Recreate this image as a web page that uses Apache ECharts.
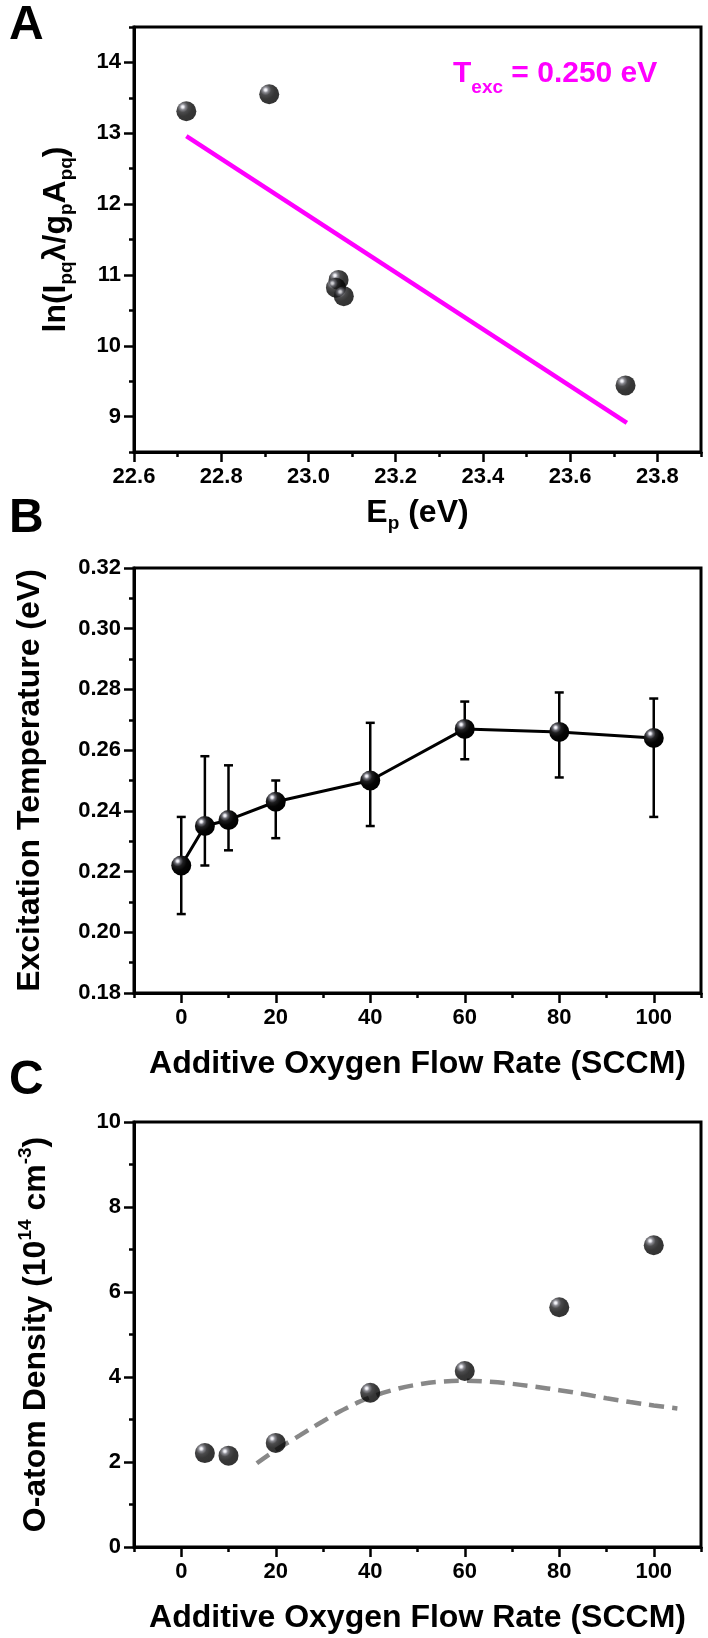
<!DOCTYPE html>
<html><head><meta charset="utf-8">
<script src="https://cdn.jsdelivr.net/npm/echarts@6/dist/echarts.min.js"></script>
<style>html,body{margin:0;padding:0;background:#fff}#c{width:708px;height:1638px}</style>
</head><body><div id="c"></div>
<script>
// ---------- Panel A data ----------
const aEnergy = [22.72, 22.91, 23.069, 23.063, 23.081, 23.727];
const aLnIntensity = [13.31, 13.55, 10.93, 10.82, 10.70, 9.44];
const aFitEnergy = [22.72, 23.73];
const aFitLn = [12.96, 8.91];
const aXTicks = [22.6, 22.8, 23.0, 23.2, 23.4, 23.6, 23.8];
const aYTicks = [9, 10, 11, 12, 13, 14];
// ---------- Panel B data ----------
const bFlow = [0, 5, 10, 20, 40, 60, 80, 100];
const bTexc = [0.222, 0.235, 0.237, 0.243, 0.250, 0.267, 0.266, 0.264];
const bErrLow = [0.206, 0.222, 0.227, 0.231, 0.235, 0.257, 0.251, 0.238];
const bErrHigh = [0.238, 0.258, 0.255, 0.250, 0.269, 0.276, 0.279, 0.277];
const bYTicks = [0.18, 0.20, 0.22, 0.24, 0.26, 0.28, 0.30, 0.32];
// ---------- Panel C data ----------
const cFlow = [5, 10, 20, 40, 60, 80, 100];
const cDensity = [2.21, 2.15, 2.45, 3.63, 4.14, 5.64, 7.10];
const cModelFlow = [16, 20, 25, 30, 35, 40, 45, 50, 55, 60, 65, 70, 75, 80, 85, 90, 95, 100, 105];
const cModelDensity = [1.97, 2.28, 2.62, 2.96, 3.27, 3.52, 3.70, 3.82, 3.89, 3.91, 3.89, 3.84, 3.77, 3.69, 3.60, 3.50, 3.41, 3.33, 3.26];
const flowTicks = [0, 20, 40, 60, 80, 100];
const cYTicks = [0, 2, 4, 6, 8, 10];

const FONT = 'Liberation Sans, Arial, sans-serif';
const zip = (a, b) => a.map((v, i) => [v, b[i]]);

const sphere = new echarts.graphic.RadialGradient(0.32, 0.28, 0.72, [
  {offset: 0, color: '#ffffff'},
  {offset: 0.08, color: '#e4e4ec'},
  {offset: 0.2, color: '#6c6c74'},
  {offset: 0.38, color: '#1e1e20'},
  {offset: 0.65, color: '#050505'},
  {offset: 1, color: '#000000'}
]);

const labelStyle = {color: '#000', fontFamily: FONT, fontWeight: 'bold', fontSize: 22};
const nameBase = {color: '#000', fontFamily: FONT, fontWeight: 'bold', fontSize: 32};

function minorX(grid, min, max, interval, name, nameRich, gap) {
  return {
    type: 'value', gridIndex: grid, position: 'bottom', min, max, interval,
    axisLine: {show: true, onZero: false, lineStyle: {color: '#000', width: 3}},
    axisTick: {show: true, length: 5, lineStyle: {color: '#000', width: 2.5}},
    axisLabel: {show: false}, splitLine: {show: false},
    name, nameLocation: 'middle', nameGap: gap,
    nameTextStyle: Object.assign({}, nameBase, {rich: nameRich})
  };
}
function majorX(grid, min, max, ticks, fmt) {
  return {
    type: 'value', gridIndex: grid, position: 'bottom', min, max,
    axisLine: {show: false, onZero: false},
    axisTick: {show: true, length: 10, customValues: ticks, lineStyle: {color: '#000', width: 2.5}},
    axisLabel: Object.assign({show: true, margin: 14, customValues: ticks, formatter: fmt}, labelStyle),
    splitLine: {show: false}
  };
}
function minorY(grid, min, max, interval, name, nameRich, gap) {
  return {
    type: 'value', gridIndex: grid, position: 'left', min, max, interval,
    axisLine: {show: true, onZero: false, lineStyle: {color: '#000', width: 3}},
    axisTick: {show: true, length: 5, lineStyle: {color: '#000', width: 2.5}},
    axisLabel: {show: false}, splitLine: {show: false},
    name, nameLocation: 'middle', nameGap: gap, nameRotate: 90,
    nameTextStyle: Object.assign({}, nameBase, {rich: nameRich})
  };
}
function majorY(grid, min, max, ticks, fmt) {
  return {
    type: 'value', gridIndex: grid, position: 'left', min, max,
    axisLine: {show: false, onZero: false},
    axisTick: {show: true, length: 10, customValues: ticks, lineStyle: {color: '#000', width: 2.5}},
    axisLabel: Object.assign({show: true, margin: 13, customValues: ticks, formatter: fmt}, labelStyle),
    splitLine: {show: false}
  };
}

const m = {fontFamily: FONT, fontWeight: 'bold', fontSize: 32, color: '#000'};
const sub = {fontFamily: FONT, fontWeight: 'bold', fontSize: 19, color: '#000', padding: [20, 0, 0, 0]};
const sup = {fontFamily: FONT, fontWeight: 'bold', fontSize: 19, color: '#000', padding: [0, 0, 22, 0]};

const gridCommon = {left: 134, right: 7, show: true, borderColor: '#000', borderWidth: 3, containLabel: false};

const option = {
  animation: false,
  backgroundColor: '#fff',
  grid: [
    Object.assign({top: 27, height: 425}, gridCommon),
    Object.assign({top: 568, height: 425}, gridCommon),
    Object.assign({top: 1122, height: 425}, gridCommon)
  ],
  xAxis: [
    minorX(0, 22.6, 23.9, 0.1, '{m|E}{s|p}{m| (eV)}', {m, s: sub}, 42),
    majorX(0, 22.6, 23.9, aXTicks, v => v.toFixed(1)),
    minorX(1, -10, 110, 10, 'Additive Oxygen Flow Rate (SCCM)', {}, 55),
    majorX(1, -10, 110, flowTicks, v => String(v)),
    minorX(2, -10, 110, 10, 'Additive Oxygen Flow Rate (SCCM)', {}, 55),
    majorX(2, -10, 110, flowTicks, v => String(v))
  ],
  yAxis: [
    minorY(0, 8.5, 14.5, 0.5, '{m|ln(I}{s|pq}{m|λ/g}{s|p}{m|A}{s|pq}{m|)}', {m, s: sub}, 58),
    majorY(0, 8.5, 14.5, aYTicks, v => String(v)),
    minorY(1, 0.18, 0.32, 0.01, 'Excitation Temperature (eV)', {}, 88),
    majorY(1, 0.18, 0.32, bYTicks, v => v.toFixed(2)),
    minorY(2, 0, 10, 1, '{m|O-atom Density (10}{u|14}{m| cm}{u|-3}{m|)}', {m, u: sup}, 77),
    majorY(2, 0, 10, cYTicks, v => String(v))
  ],
  series: [
    {type: 'line', xAxisIndex: 0, yAxisIndex: 0, data: zip(aFitEnergy, aFitLn), showSymbol: false,
     lineStyle: {color: '#ff00ff', width: 4.5}, z: 2},
    {type: 'scatter', xAxisIndex: 0, yAxisIndex: 0, data: zip(aEnergy, aLnIntensity), symbolSize: 20,
     itemStyle: {color: sphere}, z: 5},
    {type: 'custom', xAxisIndex: 2, yAxisIndex: 2,
     data: bFlow.map((x, i) => [x, bErrLow[i], bErrHigh[i]]),
     encode: {x: 0, y: [1, 2]},
     renderItem: (params, api) => {
       const x = api.value(0);
       const lo = api.coord([x, api.value(1)]);
       const hi = api.coord([x, api.value(2)]);
       const w = 4.5;
       const st = {stroke: '#000', lineWidth: 2.5};
       return {type: 'group', children: [
         {type: 'line', shape: {x1: lo[0], y1: lo[1], x2: hi[0], y2: hi[1]}, style: st},
         {type: 'line', shape: {x1: lo[0] - w, y1: lo[1], x2: lo[0] + w, y2: lo[1]}, style: st},
         {type: 'line', shape: {x1: hi[0] - w, y1: hi[1], x2: hi[0] + w, y2: hi[1]}, style: st}
       ]};
     }, z: 2},
    {type: 'line', xAxisIndex: 2, yAxisIndex: 2, data: zip(bFlow, bTexc), symbol: 'circle', symbolSize: 20,
     showSymbol: true, lineStyle: {color: '#000', width: 3}, itemStyle: {color: sphere}, z: 5},
    {type: 'line', xAxisIndex: 4, yAxisIndex: 4, data: zip(cModelFlow, cModelDensity), showSymbol: false,
     smooth: true, lineStyle: {color: '#888888', width: 4.5, type: [15, 8]}, z: 2},
    {type: 'scatter', xAxisIndex: 4, yAxisIndex: 4, data: zip(cFlow, cDensity), symbolSize: 20,
     itemStyle: {color: sphere}, z: 5}
  ],
  graphic: [
    {type: 'text', left: 9, top: 2, style: {text: 'A', font: 'bold 48px ' + FONT, fill: '#000'}},
    {type: 'text', left: 9, top: 495, style: {text: 'B', font: 'bold 48px ' + FONT, fill: '#000'}},
    {type: 'text', left: 9, top: 1057, style: {text: 'C', font: 'bold 48px ' + FONT, fill: '#000'}},
    {type: 'text', left: 453, top: 59, style: {
      text: '{m|T}{s|exc}{m| = 0.250 eV}',
      rich: {
        m: {fontFamily: FONT, fontWeight: 'bold', fontSize: 30, fill: '#ff00ff', color: '#ff00ff'},
        s: {fontFamily: FONT, fontWeight: 'bold', fontSize: 19, fill: '#ff00ff', color: '#ff00ff', padding: [28, 0, 0, 0]}
      }
    }}
  ]
};

const chart = echarts.init(document.getElementById('c'), null, {renderer: 'canvas'});
chart.setOption(option);
</script>
</body></html>
